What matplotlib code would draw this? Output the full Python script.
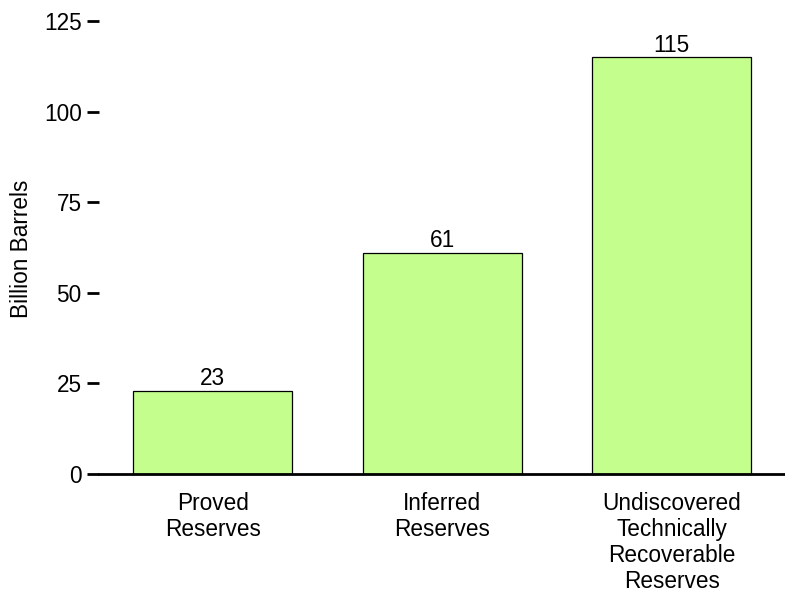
import matplotlib
matplotlib.use("Agg")
import matplotlib.pyplot as plt
from matplotlib import font_manager as fm

categories = ["Proved\nReserves", "Inferred\nReserves", "Undiscovered\nTechnically\nRecoverable\nReserves"]
values = [23, 61, 115]
yticks = [0, 25, 50, 75, 100, 125]

path = None
for f in fm.findSystemFonts():
    if f.endswith("LiberationSans-Regular.ttf"):
        path = f
        break
FS = 16.3
if path:
    fp = fm.FontProperties(fname=path, size=FS)
else:
    fp = fm.FontProperties(family=["Liberation Sans", "DejaVu Sans"], size=FS)

fig = plt.figure(figsize=(7.85, 5.93), dpi=100)
ax = fig.add_axes([99/785, 1-474/593, 1-99/785, (474-21)/593])

x = list(range(len(categories)))
ax.bar(x, values, width=0.693, color="#c4ff8e", edgecolor="black", linewidth=0.9, zorder=2)
for xi, v in zip(x, values):
    ax.text(xi, v + 0.2, str(v), ha="center", va="bottom", fontproperties=fp)

ax.set_xlim(-0.495, 2.494)
ax.set_ylim(0, 125)
ax.set_yticks(yticks)
ax.set_yticklabels([str(t) for t in yticks], fontproperties=fp)
ax.tick_params(axis="y", length=9, width=2, pad=3.5)
ax.set_xticks(x)
ax.set_xticklabels(categories, fontproperties=fp, linespacing=1.17)
ax.tick_params(axis="x", length=0, pad=13)

for s in ["top", "right", "left"]:
    ax.spines[s].set_visible(False)
ax.spines["bottom"].set_linewidth(2)
ax.spines["bottom"].set_zorder(3)

ax.set_ylabel("Billion Barrels", fontproperties=fp)
ax.yaxis.set_label_coords(-(99 - 22) / (785 - 99), (474 - 249) / (474 - 21))
ax.yaxis.label.set_va("center")

fig.savefig("out.png", dpi=100)
